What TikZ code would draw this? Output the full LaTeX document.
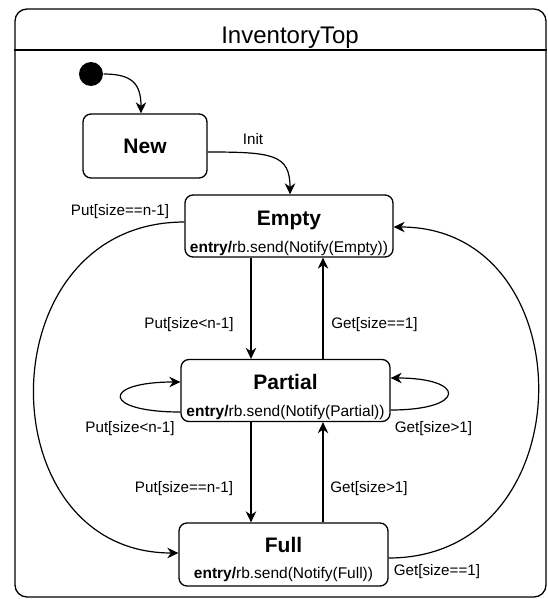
\documentclass[tikz,border=0pt]{standalone}
\usepackage{fontspec}
\setmainfont{Liberation Sans}
\usetikzlibrary{arrows.meta}
\begin{document}
\begin{tikzpicture}[x=1pt,y=-1pt,
  line width=1.3pt,
  statebox/.style={draw, rounded corners=8pt, inner sep=0pt},
  lbl/.style={font=\fontsize{15.2}{17}\selectfont, inner sep=0pt, anchor=base},
  ttl/.style={font=\fontsize{21}{24}\selectfont\bfseries, inner sep=0pt, anchor=base},
  act/.style={font=\fontsize{15.5}{18}\selectfont, inner sep=0pt, anchor=base},
  trans/.style={-{Stealth[length=11pt,width=10.5pt,inset=3.5pt]}, line width=1.2pt}]
\useasboundingbox (0,0) rectangle (547,599);

% enclosing composite state
\node[draw, rounded corners=12pt, inner sep=0pt, minimum width=531pt, minimum height=588pt] (frame) at (280.5,303) {};
\coordinate (sep) at (0,50);
\draw (frame.west |- sep) -- (frame.east |- sep);
\node[font=\fontsize{24}{28}\selectfont, inner sep=0pt, anchor=base] (title) at (290,43.5) {InventoryTop};

% initial pseudo state
\node[circle, fill=black, inner sep=0pt, minimum size=24pt] (init) at (91,74) {};

% states
\node[statebox, minimum width=124pt, minimum height=64pt] (new) at (145,146) {};
\node[ttl] (newt) at (145,153.5) {New};

\node[statebox, minimum width=208pt, minimum height=62pt] (empty) at (289,226) {};
\node[ttl] (emptyt) at (289,225.5) {Empty};
\node[act] (emptya) at (289,252.5) {\textbf{entry/}rb.send(Notify(Empty))};

\node[statebox, minimum width=209pt, minimum height=62pt] (partial) at (285.5,390.5) {};
\node[ttl] (partialt) at (285.5,389.5) {Partial};
\node[act] (partiala) at (285.5,416.5) {\textbf{entry/}rb.send(Notify(Partial))};

\node[statebox, minimum width=209pt, minimum height=63pt] (full) at (283.5,554.5) {};
\node[ttl] (fullt) at (283.5,552.5) {Full};
\node[act] (fulla) at (283.5,578.5) {\textbf{entry/}rb.send(Notify(Full))};

% columns of the vertical transitions
\coordinate (colA) at (251,0);
\coordinate (colB) at (323,0);

% transitions
\draw[trans] (init.east) .. controls +(28,0) and +(0,-30) .. ([xshift=-4pt]new.north);
\draw[trans] ([yshift=-6pt]new.east) .. controls +(65,0) and +(0,-40) .. ([xshift=1pt]empty.north);

\draw[trans] (colA |- empty.south) -- (colA |- partial.north);
\draw[trans] (colB |- partial.north) -- (colB |- empty.south);
\draw[trans] (colA |- partial.south) -- (colA |- full.north);
\draw[trans] (colB |- full.north) -- (colB |- partial.south);

\draw[trans] ([yshift=4pt]empty.west) .. controls +(-199,0) and +(-193,0) .. ([yshift=1.5pt]full.west);
\draw[trans] ([yshift=-3.5pt]full.east) .. controls +(198,0) and +(193,0) .. ([yshift=-1pt]empty.east);

\draw[trans] ([yshift=-21.5pt]partial.west) .. controls +(-79,0) and +(-79,0) .. ([yshift=8.5pt]partial.west);
\draw[trans] ([yshift=-19.5pt]partial.east) .. controls +(76,0) and +(76,0) .. ([yshift=12.5pt]partial.east);

% transition labels
\node[lbl] (l1) at (253,144.4) {Init};
\node[lbl] (l2) at (120,215.4) {Put[size==n-1]};
\node[lbl] (l3) at (189,328.4) {Put[size<n-1]};
\node[lbl] (l4) at (374.5,328.4) {Get[size==1]};
\node[lbl] (l5) at (130,432.4) {Put[size<n-1]};
\node[lbl] (l6) at (433.5,432.4) {Get[size>1]};
\node[lbl] (l7) at (184,492.4) {Put[size==n-1]};
\node[lbl] (l8) at (369,492.4) {Get[size>1]};
\node[lbl] (l9) at (437,575.4) {Get[size==1]};
\end{tikzpicture}
\end{document}
